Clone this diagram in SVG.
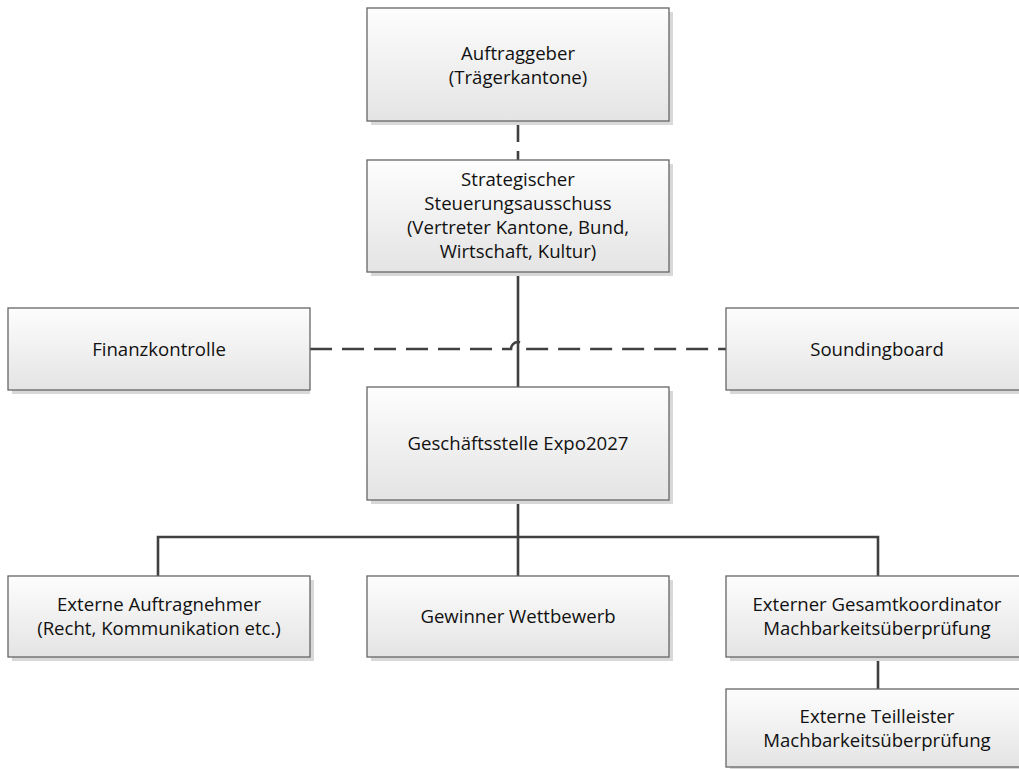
<svg xmlns="http://www.w3.org/2000/svg" width="1019" height="769" viewBox="0 0 1019 769">
<style>
.box{fill:url(#g);stroke:#666;stroke-width:1.3}
.sh{fill:#d8d8d8}
.t{font-family:"Open Sans","Noto Sans","Liberation Sans",sans-serif;font-size:18.6px;fill:#111;text-anchor:middle}
.c{fill:none;stroke:#404040;stroke-width:2.6}
.d{stroke-dasharray:22 10}
</style>
<defs>
<linearGradient id="g" x1="0" y1="0" x2="0" y2="1">
<stop offset="0" stop-color="#fdfdfd"/>
<stop offset="1" stop-color="#e4e4e4"/>
</linearGradient>
</defs>
<rect width="1019" height="769" fill="#fff"/>
<g id="connectors">
<path class="c d" d="M518,121 V160" style="stroke-dasharray:21 9"/>
<path class="c" d="M518,272 V387"/>
<path class="c d" d="M310,349 H511 A7,7 0 0 1 525,349 H726"/>
<path class="c" d="M518,500 V576"/>
<path class="c" d="M158,576 V537 H878 V576"/>
<path class="c" d="M878,657 V689"/>
</g>
<g id="n1"><rect class="sh" x="371" y="12" width="302" height="113"/><rect class="box" x="367" y="8" width="302" height="113"/>
<text class="t" x="518" y="60">Auftraggeber</text><text class="t" x="518" y="84">(Trägerkantone)</text></g>
<g id="n2"><rect class="sh" x="371" y="164" width="302" height="112"/><rect class="box" x="367" y="160" width="302" height="112"/>
<text class="t" x="518" y="186">Strategischer</text><text class="t" x="518" y="210">Steuerungsausschuss</text><text class="t" x="518" y="234">(Vertreter Kantone, Bund,</text><text class="t" x="518" y="258">Wirtschaft, Kultur)</text></g>
<g id="n3"><rect class="sh" x="12" y="312" width="298" height="82"/><rect class="box" x="8" y="308" width="302" height="82"/>
<text class="t" x="159" y="356">Finanzkontrolle</text></g>
<g id="n4"><rect class="sh" x="730" y="312" width="302" height="82"/><rect class="box" x="726" y="308" width="302" height="82"/>
<text class="t" x="877" y="356">Soundingboard</text></g>
<g id="n5"><rect class="sh" x="371" y="391" width="302" height="113"/><rect class="box" x="367" y="387" width="302" height="113"/>
<text class="t" x="518" y="450">Geschäftsstelle Expo2027</text></g>
<g id="n6"><rect class="sh" x="12" y="580" width="302" height="81"/><rect class="box" x="8" y="576" width="302" height="81"/>
<text class="t" x="159" y="611">Externe Auftragnehmer</text><text class="t" x="159" y="635">(Recht, Kommunikation etc.)</text></g>
<g id="n7"><rect class="sh" x="371" y="580" width="302" height="81"/><rect class="box" x="367" y="576" width="302" height="81"/>
<text class="t" x="518" y="623">Gewinner Wettbewerb</text></g>
<g id="n8"><rect class="sh" x="730" y="580" width="302" height="81"/><rect class="box" x="726" y="576" width="302" height="81"/>
<text class="t" x="877" y="611">Externer Gesamtkoordinator</text><text class="t" x="877" y="635">Machbarkeitsüberprüfung</text></g>
<g id="n9"><rect class="sh" x="730" y="693" width="302" height="81"/><rect class="box" x="726" y="689" width="302" height="78"/>
<text class="t" x="877" y="723">Externe Teilleister</text><text class="t" x="877" y="747">Machbarkeitsüberprüfung</text></g>
</svg>
